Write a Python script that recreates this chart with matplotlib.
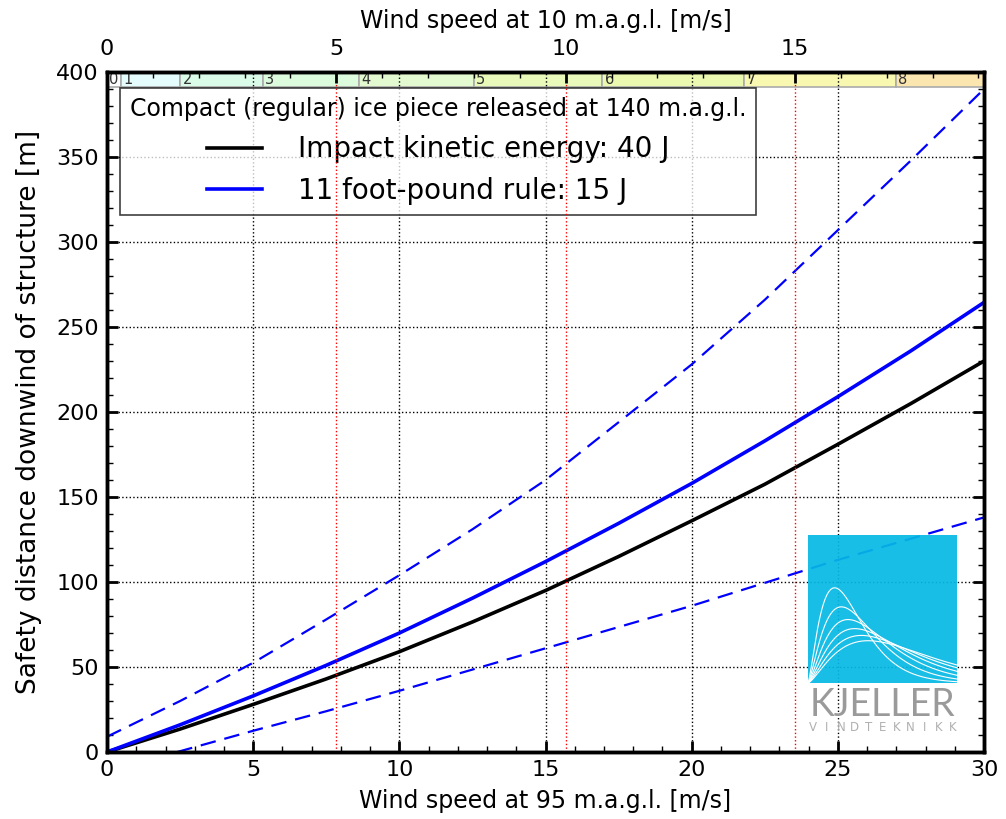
'''Ice throw safety distance vs wind speed.'''

import numpy as np
import matplotlib
matplotlib.use('Agg')
import matplotlib.pyplot as plt
from matplotlib.ticker import MultipleLocator

# Wind speed at hub (95 m.a.g.l.) where the curves were read.
wind95 = [0, 2.5, 5, 7.5, 10, 12.5, 15, 17.5, 20, 22.5, 25, 27.5, 30]
# Safety distances [m].
dist_energy = [0, 13.5, 28, 43, 59, 76.5, 95, 115, 136, 157.5, 181, 205, 230]
dist_footpound = [0, 16, 33, 51, 70, 90.5, 112, 134.5, 158, 183, 209, 236, 264.5]
dist_upper = [9, 30, 52.5, 78, 104, 131, 160, 194, 228, 266, 307, 348, 390]
wind95_lower = [2.4, 5, 7.5, 10, 12.5, 15, 17.5, 20, 22.5, 25, 27.5, 30]
dist_lower = [0, 12.5, 24, 36, 48.5, 61, 73.5, 86, 99.5, 113, 125.5, 138]

# Beaufort scale, lower bounds at 10 m.a.g.l. [m/s].
beaufort_num = [0, 1, 2, 3, 4, 5, 6, 7, 8]
beaufort_low = [0, 0.3, 1.6, 3.4, 5.5, 8.0, 10.8, 13.9, 17.2]
beaufort_col = ['#fdfdfd', '#e4fcfc', '#dafbe8', '#dcfadc', '#e3f9d0',
                '#e8f9ba', '#ebf8b0', '#f8f8b0', '#fbe6b0']

legend_title = 'Compact (regular) ice piece released at 140 m.a.g.l.'
label_energy = 'Impact kinetic energy: 40 J'
label_footpound = '11 foot-pound rule: 15 J'

# Power-law shear between 10 m and 95 m.
ratio = (95 / 10) ** 0.2
xmax = 30

fig = plt.figure(figsize=(10.06, 8.19), dpi=100)
ax = fig.add_axes([0.1064, 0.0818, 0.8718, 0.8303])

dash = (0, (7, 4))
ax.plot(wind95, dist_energy, color='black', lw=2.6, label=label_energy)
ax.plot(wind95, dist_footpound, color='blue', lw=2.6, label=label_footpound)
ax.plot(wind95, dist_upper, color='blue', lw=1.6, ls=dash)
ax.plot(wind95_lower, dist_lower, color='blue', lw=1.6, ls=dash)

ax.set_xlim(0, xmax)
ax.set_ylim(0, 400)
ax.xaxis.set_major_locator(MultipleLocator(5))
ax.xaxis.set_minor_locator(MultipleLocator(1))
ax.yaxis.set_major_locator(MultipleLocator(50))
ax.yaxis.set_minor_locator(MultipleLocator(10))
ax.tick_params(which='both', direction='in', top=False, right=True,
               labelsize=16)
ax.tick_params(which='major', length=8, width=2, pad=6)
ax.tick_params(which='minor', length=4, width=1)
ax.grid(True, which='major', color='black', ls=':', lw=1)
for s in ax.spines.values():
    s.set_linewidth(2.5)

ax.set_xlabel('Wind speed at 95 m.a.g.l. [m/s]', fontsize=17, labelpad=6)
ax.set_ylabel('Safety distance downwind of structure [m]', fontsize=19,
              labelpad=10)

# Beaufort strip along the top.
edges = beaufort_low + [xmax / ratio]
for i, n in enumerate(beaufort_num):
    x0 = edges[i] * ratio
    x1 = edges[i + 1] * ratio
    ax.axvspan(x0, x1, ymin=0.978, ymax=1, facecolor=beaufort_col[i],
               edgecolor='#aaaaaa', lw=1.2, zorder=1)
    ax.text(x0 + 0.08, 395.8, str(n), fontsize=10.5, va='center', ha='left',
            color='#333333', zorder=2)

leg = ax.legend(loc='upper left', bbox_to_anchor=(0.015, 0.977),
                borderaxespad=0, fontsize=20, title=legend_title,
                title_fontsize=17, fancybox=False, edgecolor='black',
                framealpha=0.75, handlelength=2.0, handletextpad=1.3,
                borderpad=0.35, labelspacing=0.5)
leg.get_frame().set_linewidth(1.2)
leg.set_zorder(3)

# Top axis: wind speed at 10 m.a.g.l.
ax2 = ax.twiny()
ax2.set_xlim(0, xmax / ratio)
ax2.xaxis.set_major_locator(MultipleLocator(5))
ax2.xaxis.set_minor_locator(MultipleLocator(1))
ax2.tick_params(which='both', direction='in', labelsize=16)
ax2.tick_params(which='major', length=8, width=2, pad=9)
ax2.tick_params(which='minor', length=4, width=1)
ax2.grid(True, which='major', axis='x', color='red', ls=':', lw=1)
ax2.set_xlabel('Wind speed at 10 m.a.g.l. [m/s]', fontsize=17, labelpad=8)
for s in ax2.spines.values():
    s.set_linewidth(2.5)

# Logo box in the lower right corner (slightly see-through).
logo = fig.add_axes([0.803, 0.166, 0.148, 0.181])
logo.patch.set_facecolor('#05b9e4')
logo.patch.set_alpha(0.92)
logo.set_xticks([])
logo.set_yticks([])
for s in logo.spines.values():
    s.set_visible(False)
logo.set_xlim(0, 1)
logo.set_ylim(0, 1)
xs = np.linspace(0, 1, 200)
for b in [0.12, 0.15, 0.18, 0.21, 0.24, 0.27]:
    pdf = xs ** 1.5 * np.exp(-xs / b) / (1.329 * b ** 2.5)
    logo.plot(xs, pdf * 0.25, color='white', lw=0.8)

fig.text(0.8774, 0.126, 'KJELLER', fontsize=27, color='#9a9a9a',
         ha='center', va='baseline', family='Lato')
letters = 'VINDTEKNIKK'
for i, ch in enumerate(letters):
    fig.text(0.808 + i * 0.0139, 0.107, ch, fontsize=8.5, color='#b0b0b0',
             ha='center', va='baseline', family='DejaVu Sans')

plt.savefig('out.png', dpi=100)
